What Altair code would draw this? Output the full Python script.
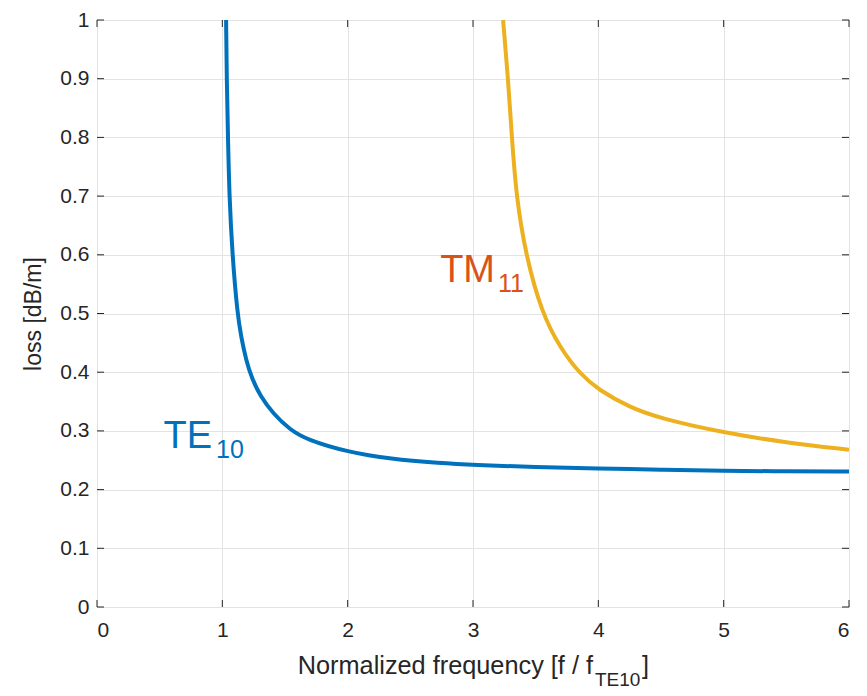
import altair as alt
import pandas as pd

# ---- data ----
te_x = [1.03, 1.035, 1.045, 1.056, 1.08, 1.12, 1.15, 1.19, 1.235, 1.3, 1.407, 1.54, 1.674, 2.0, 2.34, 2.74, 3.0, 3.5, 4.0, 4.5, 5.0, 5.5, 6.0]
te_y = [1.0, 0.9, 0.8, 0.7, 0.6, 0.5, 0.46, 0.42, 0.39, 0.36, 0.329, 0.302, 0.285, 0.264, 0.252, 0.245, 0.242, 0.238, 0.236, 0.234, 0.232, 0.231, 0.231]

tm_x = [3.24, 3.28, 3.31, 3.345, 3.42, 3.55, 3.7, 3.85, 4.0, 4.25, 4.5, 5.0, 5.5, 6.0]
tm_y = [1.0, 0.9, 0.8, 0.7, 0.6, 0.5, 0.44, 0.398, 0.37, 0.34, 0.321, 0.297, 0.28, 0.268]

x_ticks = [0, 1, 2, 3, 4, 5, 6]
y_ticks = [0, 0.1, 0.2, 0.3, 0.4, 0.5, 0.6, 0.7, 0.8, 0.9, 1.0]

modes = ["TE10", "TM11"]
mode_colors = ["#0072BD", "#EDB120"]

W, H = 752, 587
FONT = "Liberation Sans"
AX = "#262626"

df = pd.concat([
    pd.DataFrame({"f": te_x, "loss": te_y, "mode": "TE10"}),
    pd.DataFrame({"f": tm_x, "loss": tm_y, "mode": "TM11"}),
])

xscale = alt.Scale(domain=[0, 6], nice=False, zero=False)
yscale = alt.Scale(domain=[0, 1], nice=False, zero=False)

x_axis = alt.Axis(
    values=x_ticks, title="", grid=True, gridColor="#e3e3e3", tickSize=0, domain=False,
    labelFontSize=21, labelColor=AX, labelFont=FONT, labelPadding=12)
y_axis = alt.Axis(
    values=y_ticks, format="~g", title="loss [dB/m]", grid=True, gridColor="#e3e3e3",
    tickSize=0, domain=False, labelFontSize=21, labelColor=AX, labelFont=FONT,
    labelPadding=8, titleFontSize=23, titleFont=FONT, titleColor=AX,
    titleFontWeight="normal", titlePadding=14)

lines = alt.Chart(df).mark_line(strokeWidth=4, interpolate="basis", clip=True).encode(
    x=alt.X("f:Q", scale=xscale, axis=x_axis),
    y=alt.Y("loss:Q", scale=yscale, axis=y_axis),
    color=alt.Color("mode:N", scale=alt.Scale(domain=modes, range=mode_colors), legend=None),
    detail="mode:N",
)

xt = pd.DataFrame({"f": x_ticks})
yt = pd.DataFrame({"loss": y_ticks})
tick_style = dict(color=AX, strokeWidth=1)
xtick_bottom = alt.Chart(xt).mark_rule(**tick_style).encode(
    x=alt.X("f:Q", scale=xscale, axis=x_axis), y=alt.value(H), y2=alt.value(H - 7))
xtick_top = alt.Chart(xt).mark_rule(**tick_style).encode(
    x=alt.X("f:Q", scale=xscale, axis=x_axis), y=alt.value(0), y2=alt.value(7))
ytick_left = alt.Chart(yt).mark_rule(**tick_style).encode(
    y=alt.Y("loss:Q", scale=yscale, axis=y_axis), x=alt.value(0), x2=alt.value(7))
ytick_right = alt.Chart(yt).mark_rule(**tick_style).encode(
    y=alt.Y("loss:Q", scale=yscale, axis=y_axis), x=alt.value(W), x2=alt.value(W - 7))

one = pd.DataFrame({"a": [0]})


def txt(s, x, y, size, color, align="left"):
    return alt.Chart(one).mark_text(
        fontSize=size, font=FONT, color=color, align=align, baseline="alphabetic"
    ).encode(text=alt.value(s), x=alt.value(x), y=alt.value(y))


labels = [
    txt("TE", 115, 428, 38, "#0072BD", "right"),
    txt("10", 119, 438, 25, "#0072BD"),
    txt("TM", 398, 262, 38, "#D95319", "right"),
    txt("11", 401, 272, 25, "#D95319"),
    txt("Normalized frequency [f / f", 496, 654, 25.3, AX, "right"),
    txt("TE10", 498, 666, 19, AX),
    txt("]", 545, 654, 25.3, AX),
]

chart = alt.layer(
    lines, xtick_bottom, xtick_top, ytick_left, ytick_right, *labels
).properties(
    width=W, height=H,
    autosize=alt.AutoSizeParams(type="none"),
    padding={"left": 89, "top": 12, "right": 10, "bottom": 88},
).configure_view(stroke=AX, strokeWidth=1).configure(background="white")

chart.save("out.html", embed_options={"renderer": "svg", "actions": False})
